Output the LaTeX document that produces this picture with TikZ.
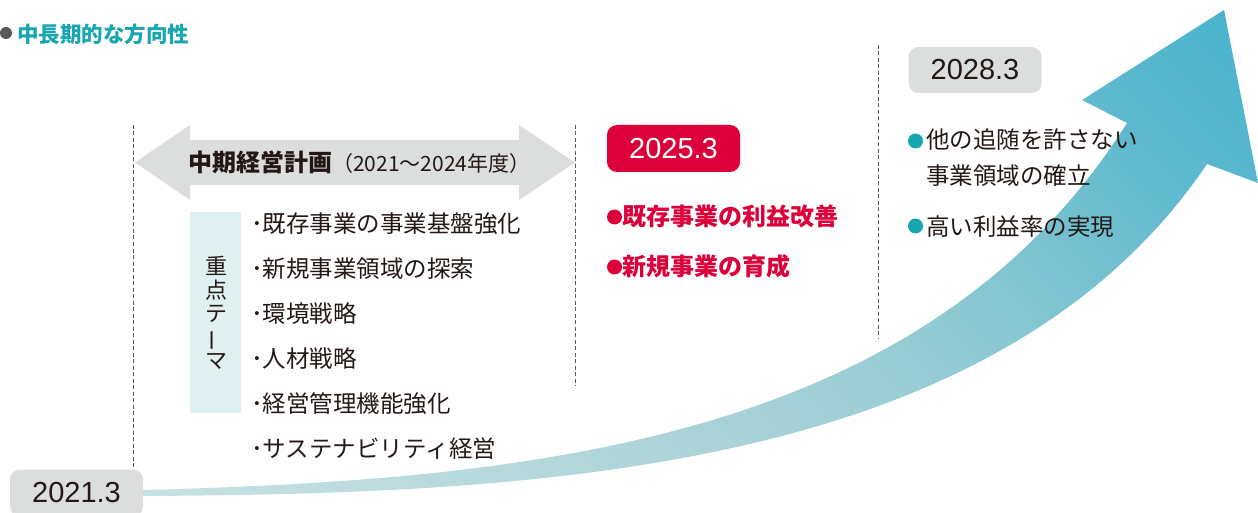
\documentclass[tikz,border=0pt]{standalone}
\usepackage{fontspec}
\usepackage{graphicx}
\setmainfont{Noto Sans CJK JP}
\newfontfamily\numfont{Liberation Sans}

\definecolor{tealtxt}{RGB}{24,166,176}
\definecolor{redtxt}{RGB}{220,0,58}
\definecolor{boxgray}{RGB}{220,221,221}
\definecolor{themebg}{RGB}{224,239,239}
\definecolor{dashgray}{RGB}{89,87,87}
\definecolor{inkc}{RGB}{35,24,21}
\definecolor{grA}{RGB}{198,225,227}
\definecolor{grB}{RGB}{180,215,218}
\definecolor{grC}{RGB}{168,210,215}
\definecolor{grD}{RGB}{148,203,211}
\definecolor{grE}{RGB}{118,193,208}
\definecolor{grF}{RGB}{98,186,206}
\definecolor{grG}{RGB}{70,179,205}

% colour ramp of the rising arrow, from its tail to its head
\pgfdeclareverticalshading{risegrad}{100bp}{
  color(0bp)=(grA); color(14.6bp)=(grA); color(33.7bp)=(grB);
  color(44.3bp)=(grC); color(56bp)=(grD); color(66.6bp)=(grE);
  color(73.3bp)=(grF); color(85.4bp)=(grG); color(100bp)=(grG)}

\tikzset{
  dashline/.style={draw=dashgray, line width=1pt, dash pattern=on 4pt off 2.5pt},
  datebox/.style={rounded corners=10pt, inner sep=0pt, minimum width=133pt,
    minimum height=47pt, font=\numfont\fontsize{29}{31}\selectfont},
  graydate/.style={datebox, fill=boxgray, text=inkc},
  reddate/.style={datebox, fill=redtxt, text=white},
  dotmark/.style={circle, inner sep=0pt, minimum size=15pt},
  jtext/.style={inner sep=0pt, anchor=west, text=inkc, align=left},
}

\begin{document}
\begin{tikzpicture}[x=1pt, y=-1pt]
\useasboundingbox (0,0) rectangle (1258,513);
\clip (0,0) rectangle (1258,513);

% rising arrow
\shade[shading=risegrad, shading angle=-45]
  (140,490) .. controls (550,480) and (930,435) .. (1127,123)
  -- (1082,100) -- (1224,10) -- (1258,183) -- (1207,164)
  .. controls (1000,470) and (550,494) .. (140,496) -- cycle;

% heading
\node[circle, fill=dashgray, inner sep=0pt, minimum size=12pt] (hdot) at (6,33) {};
\node[inner sep=0pt, anchor=west, text=tealtxt, font=\bfseries\fontsize{21.5}{22}\selectfont]
  (heading) at (17,34) {中長期的な方向性};

% period markers
\node[graydate] (d2021) at (76.5,493) {2021.3};
\node[reddate] (d2025) at (673.5,148.5) {2025.3};
\node[graydate, minimum height=46pt] (d2028) at (975,70) {2028.3};

% dashed separators
\coordinate (s1) at (133,125);
\coordinate (s2t) at (575,125);
\coordinate (s2b) at (575,386);
\coordinate (s3t) at (878,45);
\coordinate (s3b) at (878,338);
\draw[dashline] (s1) -- (s1 |- d2021.north);
\draw[dashline] (s2t) -- (s2b);
\draw[dashline] (s3t) -- (s3b);

% plan period double arrow
\fill[boxgray] (135,162.5) -- (190,125) -- (190,140) -- (519,140) -- (519,125)
  -- (575,162.5) -- (519,200) -- (519,185) -- (190,185) -- (190,200) -- cycle;
\node[jtext, font=\bfseries\fontsize{24}{26}\selectfont] (plan) at (188,162)
  {中期経営計画{\mdseries\fontsize{21}{22}\selectfont（2021～2024年度）}};

% key themes
\fill[themebg] (190,212) rectangle (241,413);
\node[inner sep=0pt, align=center, text=inkc, font=\fontsize{22}{23.5}\selectfont]
  (themes) at (216,313) {重\\点\\テ\\\rotatebox[origin=c]{90}{ー}\\マ};
\node[jtext, font=\fontsize{23.5}{45}\selectfont] (themelist) at (251,336.5)
  {･既存事業の事業基盤強化\\･新規事業領域の探索\\･環境戦略\\･人材戦略\\･経営管理機能強化\\･サステナビリティ経営};

% 2025 goals
\node[dotmark, fill=redtxt] (r1) at (614.5,217) {};
\node[dotmark, fill=redtxt] (r2) at (614.5,267) {};
\node[jtext, text=redtxt, font=\bfseries\fontsize{24}{50}\selectfont] (goals25) at (622,242)
  {既存事業の利益改善\\新規事業の育成};

% 2028 goals
\node[dotmark, fill=tealtxt] (t1) at (915.5,141) {};
\node[dotmark, fill=tealtxt] (t2) at (915.5,226) {};
\node[jtext, font=\fontsize{23.5}{36}\selectfont] (goals28a) at (926,158)
  {他の追随を許さない\\事業領域の確立};
\node[jtext, font=\fontsize{23.5}{30}\selectfont] (goals28b) at (926,227)
  {高い利益率の実現};
\end{tikzpicture}
\end{document}
